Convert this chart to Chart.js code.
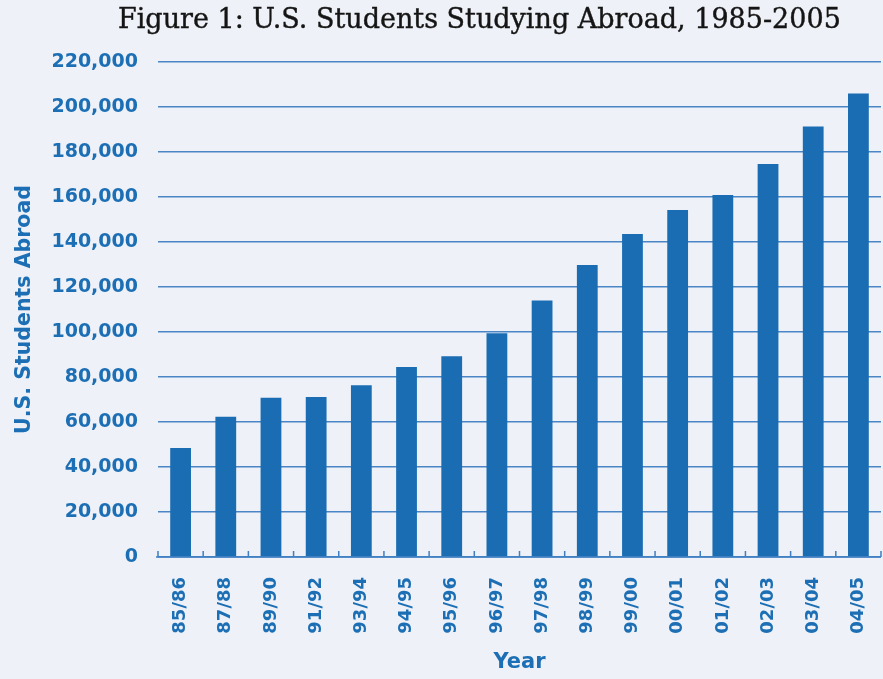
<!DOCTYPE html>
<html>
<head>
<meta charset="utf-8">
<script src="https://cdn.jsdelivr.net/npm/chart.js@4.4.0/dist/chart.umd.min.js"></script>
<style>
    body { margin: 0; background: #eef1f7; }
    #wrap { position: relative; width: 883px; height: 679px; }
    #title {
        position: absolute; left: 118px; top: 3px;
        font-family: 'DejaVu Serif'; font-size: 27px; color: #151515;
        -webkit-text-stroke: 0.4px #151515;
        white-space: nowrap;
    }
</style>
</head>
<body>
<div id="wrap">
    <canvas id="chart" width="883" height="679"></canvas>
    <div id="title">Figure 1: U.S. Students Studying Abroad, 1985-2005</div>
</div>
<script>
// Data
const years = ['85/86', '87/88', '89/90', '91/92', '93/94', '94/95', '95/96', '96/97',
    '97/98', '98/99', '99/00', '00/01', '01/02', '02/03', '03/04', '04/05'];
const students = [48483, 62341, 70727, 71154, 76302, 84403, 89242, 99448,
    113959, 129770, 143590, 154168, 160920, 174629, 191321, 205983];
const yTicks = [0, 20000, 40000, 60000, 80000, 100000, 120000, 140000, 160000, 180000, 200000, 220000];

const blue = '#1a6db3';
const textBlue = '#1c6fb4';

// small upward ticks between categories on the x axis
const bottomTicks = {
    id: 'bottomTicks',
    afterDatasetsDraw(chart) {
        const ctx = chart.ctx;
        const x = chart.scales.x;
        const bottom = chart.chartArea.bottom;
        ctx.save();
        ctx.strokeStyle = '#3f7fc2';
        ctx.lineWidth = 1.5;
        ctx.beginPath();
        ctx.moveTo(chart.chartArea.left - 2, bottom);
        ctx.lineTo(chart.chartArea.right, bottom);
        for (let i = 0; i <= years.length; i++) {
            const px = x.getPixelForValue(i - 0.5);
            ctx.moveTo(px, bottom);
            ctx.lineTo(px, bottom - 6);
        }
        ctx.stroke();
        ctx.restore();
    }
};

new Chart(document.getElementById('chart').getContext('2d'), {
    type: 'bar',
    data: {
        labels: years,
        datasets: [{
            data: students,
            backgroundColor: blue,
            barPercentage: 0.46,
            categoryPercentage: 1
        }]
    },
    options: {
        responsive: false,
        animation: false,
        layout: { padding: { left: 12, right: 0, top: 62, bottom: 4 } },
        plugins: {
            legend: { display: false },
            tooltip: { enabled: false }
        },
        scales: {
            x: {
                afterFit(scale) { scale.height = 118; },
                grid: {
                    display: true,
                    drawOnChartArea: false,
                    drawTicks: true,
                    tickLength: 17,
                    color: 'rgba(0,0,0,0)'
                },
                border: { display: false },
                ticks: {
                    color: textBlue,
                    font: { family: 'DejaVu Sans', size: 18, weight: 'bold' },
                    minRotation: 90,
                    maxRotation: 90,
                    padding: 3
                },
                title: {
                    display: true,
                    text: 'Year',
                    color: textBlue,
                    font: { family: 'DejaVu Sans', size: 21, weight: 'bold' },
                    padding: { top: 2, bottom: 0 }
                }
            },
            y: {
                min: 0,
                max: 220000,
                afterFit(scale) { scale.width = 146; },
                afterBuildTicks(scale) {
                    scale.ticks = yTicks.map(v => ({ value: v }));
                },
                border: { display: false },
                grid: {
                    color: '#4a85c6',
                    lineWidth: 1.5,
                    drawTicks: false
                },
                ticks: {
                    color: textBlue,
                    font: { family: 'DejaVu Sans', size: 19, weight: 'bold' },
                    padding: 20,
                    callback: v => v.toLocaleString('en-US')
                },
                title: {
                    display: true,
                    text: 'U.S. Students Abroad',
                    color: textBlue,
                    font: { family: 'DejaVu Sans', size: 20.5, weight: 'bold' },
                    padding: { top: 0, bottom: 8 }
                }
            }
        }
    },
    plugins: [bottomTicks]
});
</script>
</body>
</html>
